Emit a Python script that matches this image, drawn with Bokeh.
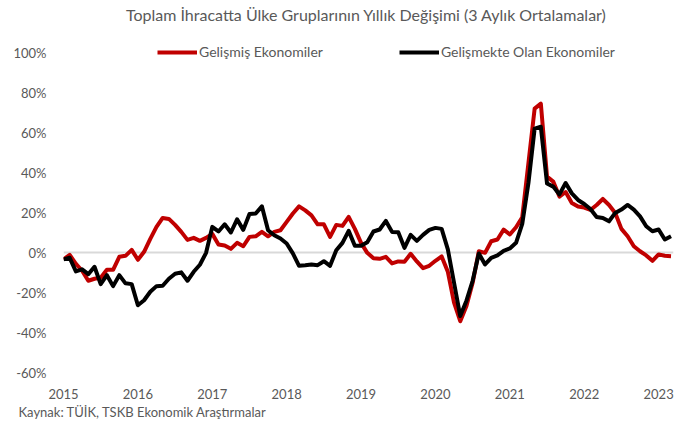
from bokeh.plotting import figure
from bokeh.models import Label, Legend, LegendItem, FixedTicker, PrintfTickFormatter, Title
from bokeh.embed import file_html
from bokeh.resources import INLINE

years = ["2015", "2016", "2017", "2018", "2019", "2020", "2021", "2022", "2023"]

# Monthly, Jan 2015 - Mar 2023 (3-month averages, % yoy)
gelismis = [
    -3.3, -1.0, -5.5, -9.0, -14.0, -13.0, -12.5, -8.5, -8.5, -2.0, -1.5, 1.5,
    -3.5, 0.5, 7.0, 13.0, 17.5, 17.0, 14.0, 10.5, 6.5, 7.5, 6.0, 7.5,
    9.5, 4.2, 3.7, 2.0, 5.0, 3.3, 8.0, 8.3, 10.5, 8.3, 10.5, 11.3,
    15.5, 19.7, 23.3, 21.3, 18.8, 14.3, 14.3, 8.0, 14.0, 13.5, 18.0, 12.0,
    5.0, 0.0, -2.7, -3.0, -2.0, -5.3, -4.3, -4.5, -0.5, -4.3, -7.7, -6.5,
    -4.0, -1.8, -9.5, -25.0, -34.3, -26.7, -15.0, 0.8, 0.0, 5.8, 6.7, 11.6,
    9.2, 12.8, 17.8, 45.0, 72.3, 74.8, 38.2, 35.7, 28.2, 30.5, 25.0, 23.2,
    22.7, 21.5, 24.0, 27.0, 24.0, 20.0, 12.0, 8.3, 3.3, 0.8, -1.3, -4.0,
    -0.8, -1.5, -1.7,
]
gelismekte = [
    -3.3, -2.5, -9.3, -8.3, -10.7, -7.0, -15.7, -11.2, -16.7, -11.2, -15.3, -15.7,
    -26.3, -23.8, -19.5, -16.7, -16.5, -13.0, -10.5, -9.8, -14.0, -9.5, -6.0, 0.0,
    13.0, 10.7, 14.3, 10.2, 16.8, 11.5, 19.5, 19.7, 23.3, 11.3, 8.8, 7.2,
    4.7, -0.3, -6.5, -6.2, -5.8, -6.2, -4.2, -6.5, 1.3, 5.0, 11.0, 3.5,
    3.5, 5.3, 10.7, 11.7, 16.0, 10.5, 10.3, 2.5, 9.0, 6.0, 9.0, 11.5,
    12.5, 12.0, 1.7, -15.0, -31.7, -24.0, -14.0, -0.3, -5.8, -2.5, -1.3, 1.0,
    2.2, 5.0, 14.5, 35.0, 62.3, 63.2, 34.8, 33.2, 29.3, 35.0, 29.8, 26.5,
    24.5, 22.0, 18.0, 17.5, 15.8, 20.0, 21.7, 24.0, 21.7, 18.3, 13.3, 10.8,
    11.7, 6.7, 8.3,
]
months = list(range(len(gelismis)))
year_ticks = [12 * k for k in range(len(years))]
y_ticks = [-60, -40, -20, 0, 20, 40, 60, 80, 100]

FONT = "Lato"
GREY = "#595959"

p = figure(width=681, height=424, output_backend="svg", toolbar_location=None,
           x_range=(0, 98.4), y_range=(-60, 125),
           min_border_left=63, min_border_right=8, min_border_top=3, min_border_bottom=52)
p.outline_line_color = None

r1 = p.line(months, gelismis, line_color="#C00000", line_width=4, line_join="round")
r2 = p.line(months, gelismekte, line_color="#000000", line_width=4, line_join="round")

p.xaxis.ticker = FixedTicker(ticks=year_ticks)
p.xaxis.major_label_overrides = {t: y for t, y in zip(year_ticks, years)}
p.yaxis.ticker = FixedTicker(ticks=y_ticks)
p.yaxis.formatter = PrintfTickFormatter(format="%d%%")
for ax in (p.xaxis[0], p.yaxis[0]):
    ax.axis_line_color = None
    ax.major_tick_line_color = None
    ax.minor_tick_line_color = None
    ax.major_tick_out = 0
    ax.major_tick_in = 0
    ax.major_label_text_font = FONT
    ax.major_label_text_font_size = "13px"
    ax.major_label_text_color = GREY
p.xaxis.major_label_standoff = 16
p.yaxis.major_label_standoff = 17

p.xgrid.visible = False
p.ygrid.ticker = FixedTicker(ticks=[0])
p.ygrid.grid_line_color = "#D9D9D9"
p.ygrid.grid_line_width = 2

legend = Legend(items=[LegendItem(label="Gelişmiş Ekonomiler", renderers=[r1]),
                       LegendItem(label="Gelişmekte Olan Ekonomiler", renderers=[r2])],
                orientation="horizontal", location=(94, 312),
                glyph_width=40, glyph_height=14, label_height=14, label_standoff=2,
                spacing=76, padding=0, margin=0, border_line_color=None,
                background_fill_alpha=0, label_text_font=FONT,
                label_text_font_size="14px", label_text_color=GREY)
p.add_layout(legend, "center")

p.add_layout(Label(x=303, y=358, x_units="screen", y_units="screen",
                   text="Toplam İhracatta Ülke Gruplarının Yıllık Değişimi (3 Aylık Ortalamalar)",
                   text_align="center", text_baseline="middle", text_font=FONT,
                   text_font_size="16px", text_color=GREY))

footer = Title(text="Kaynak: TÜİK, TSKB Ekonomik Araştırmalar", align="left",
               offset=-45, standoff=0, text_font=FONT, text_font_size="13px",
               text_font_style="normal", text_color=GREY)
p.add_layout(footer, "below")

open("out.html", "w").write(file_html(p, INLINE))
